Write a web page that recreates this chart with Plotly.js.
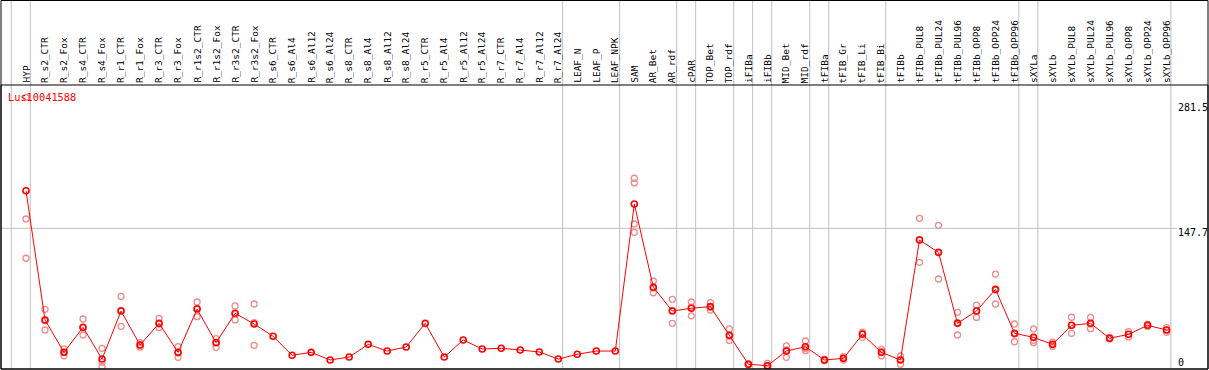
<!DOCTYPE html>
<html>
<head>
<meta charset="utf-8">
<script src="https://cdn.plot.ly/plotly-3.0.1.min.js"></script>
<style>html,body{margin:0;padding:0;background:#fff;}#chart{width:1209px;height:370px;}</style>
</head>
<body>
<div id="chart"></div>
<script>
var categories = ["HYP","R_s2_CTR","R_s2_Fox","R_s4_CTR","R_s4_Fox","R_r1_CTR","R_r1_Fox","R_r3_CTR","R_r3_Fox","R_r1s2_CTR","R_r1s2_Fox","R_r3s2_CTR","R_r3s2_Fox","R_s6_CTR","R_s6_Al4","R_s6_Al12","R_s6_Al24","R_s8_CTR","R_s8_Al4","R_s8_Al12","R_s8_Al24","R_r5_CTR","R_r5_Al4","R_r5_Al12","R_r5_Al24","R_r7_CTR","R_r7_Al4","R_r7_Al12","R_r7_Al24","LEAF_N","LEAF_P","LEAF_NPK","SAM","AR_Bet","AR_rdf","cPAR","TOP_Bet","TOP_rdf","iFIBa","iFIBb","MID_Bet","MID_rdf","tFIBa","tFIB_Gr","tFIB_Li","tFIB_Bi","tFIBb","tFIBb_PUL8","tFIBb_PUL24","tFIBb_PUL96","tFIBb_OPP8","tFIBb_OPP24","tFIBb_OPP96","sXYLa","sXYLb","sXYLb_PUL8","sXYLb_PUL24","sXYLb_PUL96","sXYLb_OPP8","sXYLb_OPP24","sXYLb_OPP96"];

var meanValues = [187.7,50.1,15.6,42.3,8.5,59.6,23.4,46.5,15.6,61.7,25.9,57.2,45.8,32.7,12.5,15.6,7.5,10.6,24.1,17.0,21.3,46.5,10.6,28.8,19.2,19.9,18.1,16.0,8.5,13.5,17.0,17.0,173.6,84.9,59.6,62.5,64.3,33.8,2.9,1.4,17.0,21.6,7.5,9.2,34.8,15.6,7.5,135.2,122.1,46.5,59.6,82.7,35.9,31.6,24.1,44.4,46.5,30.6,34.8,44.4,39.4];

var rep1 = [287.2,61.4,19.2,51.1,19.9,75.3,25.9,51.8,21.6,69.2,30.2,65.0,67.1,null,null,null,null,null,null,null,null,null,null,null,null,null,null,null,null,null,null,null,201.0,91.6,72.1,69.2,68.5,40.5,3.5,3.8,22.4,27.7,8.4,11.0,37.0,18.8,11.7,158.3,150.9,58.2,66.0,99.0,45.8,40.5,26.5,53.0,52.8,31.5,37.6,45.6,41.9];
var rep2 = [157.6,39.4,12.0,34.1,0.5,43.3,21.1,41.9,10.3,53.6,21.0,50.1,23.1,null,null,null,null,null,null,null,null,null,null,null,null,null,null,null,null,null,null,null,143.4,79.1,46.5,54.5,60.7,28.1,2.3,0.6,10.3,17.4,6.6,7.4,31.6,12.0,2.9,111.5,93.7,34.1,52.8,67.1,26.9,25.9,22.0,35.9,40.8,29.7,32.0,43.2,37.0];
var rep3 = [115.8,49.5,15.6,41.7,5.1,60.2,23.2,45.8,14.9,62.3,26.5,56.5,47.2,null,null,null,null,null,null,null,null,null,null,null,null,null,null,null,null,null,null,null,196.0,84.0,60.2,63.8,63.7,32.8,2.9,1.4,18.3,19.7,null,null,35.8,16.0,7.9,135.8,121.7,47.2,60.0,82.0,35.0,28.4,23.8,44.3,45.9,null,null,null,39.3];
var rep4 = [null,null,null,null,null,null,null,null,null,null,null,null,null,null,null,null,null,null,null,null,null,null,null,null,null,null,null,null,null,null,null,null,152.3,null,null,null,null,null,null,null,null,null,null,null,null,null,null,null,null,null,null,null,null,null,null,null,null,null,null,null,null];

var groupEnds = [-1,0,28,31,34,35,37,38,39,41,42,45,52,53,60];
var axisLabels = ["281.5","147.7","0"];
var axisLabelValues = [281.5,147.7,0];
var titleText = "Lus10041588";

// geometry
var W = 1209, H = 370;
var plotTop = 85, plotBottom = 369, plotLeft = 1, plotRight = 1208;
var ph = plotBottom - plotTop;
function paperY(px){ return (plotBottom - px)/ph; }
function paperX(px){ return (px - plotLeft)/(plotRight - plotLeft); }

var xIdx = categories.map(function(_, i){ return i; });
var repColor = 'rgb(238,140,140)';
var mono = '"DejaVu Sans Mono", "Liberation Mono", monospace';

var traces = [];
[rep1, rep2, rep3, rep4].forEach(function(r){
  traces.push({x: xIdx, y: r, type: 'scatter', mode: 'markers', hoverinfo: 'skip',
    marker: {symbol: 'circle-open', size: 6, color: repColor, line: {color: repColor, width: 1.3}}, showlegend: false});
});
traces.push({x: xIdx, y: meanValues, type: 'scatter', mode: 'lines+markers',
  line: {color: '#ff0000', width: 1},
  marker: {symbol: 'circle-open', size: 6, color: '#ff0000', line: {color: '#ff0000', width: 1.6}}, showlegend: false});

var shapes = [];
groupEnds.forEach(function(k){
  shapes.push({type: 'line', xref: 'x', yref: 'paper', x0: k + 0.226, x1: k + 0.226, y0: 0, y1: paperY(0),
    line: {color: 'rgb(192,192,192)', width: 1}, layer: 'below'});
});
shapes.push({type: 'line', xref: 'paper', yref: 'y', x0: 0, x1: paperX(1177), y0: 147.7, y1: 147.7,
  line: {color: 'rgb(192,192,192)', width: 1}, layer: 'below'});
shapes.push({type: 'rect', xref: 'paper', yref: 'paper', x0: 0, x1: 1, y0: 0, y1: 1, line: {color: '#000', width: 1}, layer: 'above'});
shapes.push({type: 'rect', xref: 'paper', yref: 'paper', x0: 0, x1: 1, y0: 0, y1: paperY(0.5), line: {color: '#000', width: 1}, layer: 'above'});

var annotations = [];
categories.forEach(function(c, i){
  annotations.push({text: c, xref: 'x', yref: 'paper', x: i, y: paperY(84), xanchor: 'center', yanchor: 'bottom',
    textangle: -90, showarrow: false, font: {family: mono, size: 9.5, color: '#000'}, borderpad: 0});
});
annotations.push({text: titleText, xref: 'paper', yref: 'paper', x: paperX(7), y: paperY(97.3), xanchor: 'left', yanchor: 'middle',
  showarrow: false, font: {family: mono, size: 10.3, color: '#ff0000'}, borderpad: 0});
var labelCenters = [107.5, 232.5, 362.7];
axisLabels.forEach(function(t, j){
  annotations.push({text: t, xref: 'paper', yref: 'paper', x: paperX(1177), y: paperY(labelCenters[j]), xanchor: 'left', yanchor: 'middle',
    showarrow: false, font: {family: mono, size: 10, color: '#000'}, borderpad: 0});
});

var x0 = (plotLeft - 26)/19.01, x1 = (plotRight - 26)/19.01;
var layout = {
  width: W, height: H,
  margin: {l: plotLeft, r: W - plotRight, t: plotTop, b: H - plotBottom, pad: 0},
  paper_bgcolor: '#fff', plot_bgcolor: '#fff',
  xaxis: {range: [x0, x1], showgrid: false, zeroline: false, showticklabels: false, ticks: '', fixedrange: true},
  yaxis: {range: [(367 - plotBottom)/0.939, (367 - plotTop)/0.939], showgrid: false, zeroline: false, showticklabels: false, ticks: '', fixedrange: true},
  shapes: shapes, annotations: annotations, showlegend: false, hovermode: false
};
Plotly.newPlot('chart', traces, layout, {staticPlot: true, displayModeBar: false});
</script>
</body>
</html>
